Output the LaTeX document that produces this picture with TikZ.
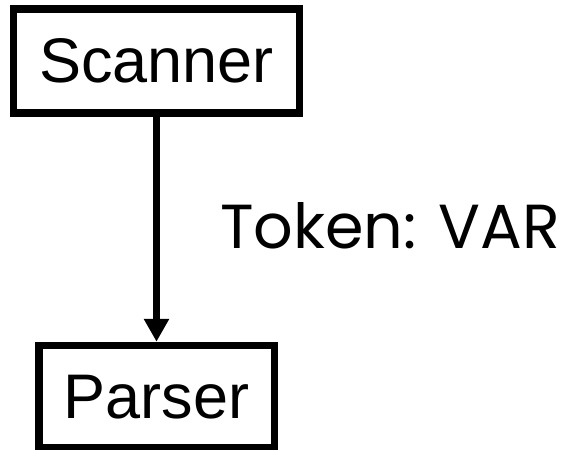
\documentclass[tikz,border=0pt]{standalone}
\usepackage{fontspec}
\setmainfont{Liberation Sans}
\newfontfamily\labelfont{Poppins}
\usetikzlibrary{arrows.meta}
\tikzset{
  box/.style={draw=black, line width=7.5pt, rectangle, inner sep=0pt,
    font=\fontsize{63}{63}\selectfont},
  flow/.style={line width=7pt, -{Triangle[width=24pt,length=23pt]}},
}
\begin{document}
\begin{tikzpicture}[x=1pt,y=-1pt]
\useasboundingbox (0,0) rectangle (568,450);
\node[box, minimum width=286pt, minimum height=104pt] (scanner) at (156.5,61) {Scanner};
\node[box, minimum width=235.5pt, minimum height=102.5pt] (parser) at (156.5,396.75) {Parser};
\draw[flow] (scanner.south) -- (parser.north);
\node[anchor=base west, inner sep=0pt] (label) at (220,248)
  {\resizebox{340pt}{46pt}{\labelfont Token: VAR}};
\end{tikzpicture}
\end{document}
